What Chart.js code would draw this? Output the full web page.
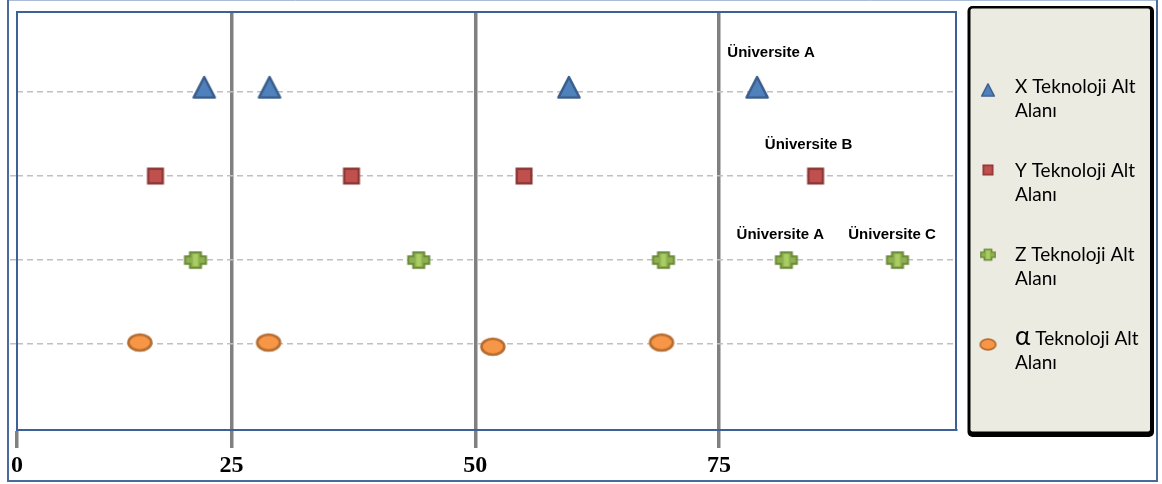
<!DOCTYPE html>
<html>
<head>
<meta charset="utf-8">
<script src="https://cdn.jsdelivr.net/npm/chart.js@4/dist/chart.umd.min.js"></script>
<style>
  html, body { margin: 0; padding: 0; background: #ffffff; }
  #wrap { width: 1162px; height: 484px; position: relative; }
  canvas { display: block; }
</style>
</head>
<body>
<div id="wrap"><canvas id="chart" width="1162" height="484"></canvas></div>
<script>
// Position-axis ticks and the text printed under each of them
const tickValues = [3, 25, 50, 75];
const tickLabels = ['0', '25', '50', '75'];

// Row levels on the vertical axis (one dashed line per sub-field)
const rowLevels = [1, 2, 3, 4];

// Series names shown in the legend
const seriesNames = [
  'X Teknoloji Alt Alanı',
  'Y Teknoloji Alt Alanı',
  'Z Teknoloji Alt Alanı',
  'α Teknoloji Alt Alanı'
];

// X sub-field
const xValues = [22.2, 28.9, 59.6, 78.9];
const xRows   = [4, 4, 4, 4];
const xNotes  = ['', '', '', 'Üniversite A'];

// Y sub-field
const yValues = [17.2, 37.3, 55.0, 84.9];
const yRows   = [3, 3, 3, 3];
const yNotes  = ['', '', '', 'Üniversite B'];

// Z sub-field
const zValues = [21.3, 44.2, 69.3, 81.9, 93.3];
const zRows   = [2, 2, 2, 2, 2];
const zNotes  = ['', '', '', 'Üniversite A', 'Üniversite C'];

// α sub-field
const aValues = [15.6, 28.8, 51.8, 69.1];
const aRows   = [1.02, 1.02, 0.97, 1.02];
const aNotes  = ['', '', '', ''];

// ---------- marker images ----------
function makeCanvas(w, h) {
  const c = document.createElement('canvas');
  c.width = w; c.height = h;
  return c;
}

function triangleMarker(s) {
  const w = Math.round(26 * s), h = Math.round(34 * s);
  const c = makeCanvas(w, h), g = c.getContext('2d');
  const cx = w / 2, cy = h / 2;
  g.beginPath();
  g.moveTo(cx, cy - 15 * s);
  g.lineTo(cx + 10.6 * s, cy + 5.6 * s);
  g.lineTo(cx - 10.6 * s, cy + 5.6 * s);
  g.closePath();
  g.fillStyle = '#4f81bd';
  g.fill();
  g.lineJoin = 'round';
  g.lineWidth = 2.4 * s;
  g.strokeStyle = '#385d8a';
  g.stroke();
  return c;
}

function squareMarker(s) {
  const w = Math.round(20 * s), h = Math.round(20 * s);
  const c = makeCanvas(w, h), g = c.getContext('2d');
  const cx = w / 2, cy = h / 2, half = 7.3 * s;
  g.fillStyle = '#c0504d';
  g.fillRect(cx - half, cy - half, half * 2, half * 2);
  g.lineWidth = 2.4 * s;
  g.strokeStyle = '#8c3836';
  g.strokeRect(cx - half, cy - half, half * 2, half * 2);
  return c;
}

function crossMarker(s) {
  const w = Math.round(26 * s), h = Math.round(22 * s);
  const c = makeCanvas(w, h), g = c.getContext('2d');
  const cx = w / 2, cy = h / 2;
  const hw = 10.5 * s, hh = 3.8 * s, vw = 5.5 * s, vh = 7.8 * s;
  g.beginPath();
  g.moveTo(cx - vw, cy - vh);
  g.lineTo(cx + vw, cy - vh);
  g.lineTo(cx + vw, cy - hh);
  g.lineTo(cx + hw, cy - hh);
  g.lineTo(cx + hw, cy + hh);
  g.lineTo(cx + vw, cy + hh);
  g.lineTo(cx + vw, cy + vh);
  g.lineTo(cx - vw, cy + vh);
  g.lineTo(cx - vw, cy + hh);
  g.lineTo(cx - hw, cy + hh);
  g.lineTo(cx - hw, cy - hh);
  g.lineTo(cx - vw, cy - hh);
  g.closePath();
  g.fillStyle = '#8fb04e';
  g.fill();
  g.fillStyle = '#a9cc63';
  g.fillRect(cx - 2.6 * s, cy - 6.3 * s, 5.2 * s, 12.6 * s);
  g.lineJoin = 'miter';
  g.lineWidth = 2 * s;
  g.strokeStyle = '#6b8a38';
  g.stroke();
  return c;
}

function ellipseMarker(s) {
  const w = Math.round(28 * s), h = Math.round(22 * s);
  const c = makeCanvas(w, h), g = c.getContext('2d');
  const cx = w / 2, cy = h / 2;
  g.beginPath();
  g.ellipse(cx, cy, 11.4 * s, 8 * s, 0, 0, Math.PI * 2);
  g.fillStyle = '#f79646';
  g.fill();
  g.lineWidth = 2.6 * s;
  g.strokeStyle = '#b66d31';
  g.stroke();
  return c;
}

const chartMarkers  = [triangleMarker(1), squareMarker(1), crossMarker(1), ellipseMarker(1)];
const legendMarkers = [triangleMarker(0.6), squareMarker(0.65), crossMarker(0.68), ellipseMarker(0.68)];

function toPoints(vals, rows) {
  return vals.map((v, i) => ({ x: v, y: rows[i] }));
}

// ---------- frames around the plot and the whole figure ----------
const framePlugin = {
  id: 'frames',
  beforeDraw(chart) {
    const ctx = chart.ctx;
    ctx.save();
    ctx.fillStyle = '#ffffff';
    ctx.fillRect(0, 0, chart.width, chart.height);
    // outer figure border
    ctx.strokeStyle = '#a9bdd8';
    ctx.lineWidth = 1;
    ctx.beginPath();
    ctx.moveTo(8, 0.5); ctx.lineTo(1158, 0.5);
    ctx.stroke();
    ctx.strokeStyle = '#4a6a9b';
    ctx.lineWidth = 2;
    ctx.beginPath();
    ctx.moveTo(8, 0); ctx.lineTo(8, 481); ctx.lineTo(1157, 481); ctx.lineTo(1157, 0);
    ctx.stroke();
    ctx.restore();
  },
  beforeDatasetsDraw(chart) {
    const { ctx, chartArea: a } = chart;
    ctx.save();
    ctx.strokeStyle = '#3d6098';
    ctx.lineWidth = 2;
    ctx.strokeRect(a.left, a.top, a.right - a.left, a.bottom - a.top);
    ctx.restore();
  }
};

// ---------- text notes above selected points ----------
const notePlugin = {
  id: 'pointNotes',
  afterDatasetsDraw(chart, args, opts) {
    const ctx = chart.ctx;
    ctx.save();
    ctx.font = opts.font;
    ctx.fillStyle = opts.color;
    ctx.textAlign = 'center';
    ctx.textBaseline = 'alphabetic';
    opts.notes.forEach((list, di) => {
      const meta = chart.getDatasetMeta(di);
      list.forEach((text, pi) => {
        if (!text) return;
        const el = meta.data[pi];
        const off = opts.offsets[di][pi];
        ctx.fillText(text, el.x + off[0], el.y + off[1]);
      });
    });
    ctx.restore();
  }
};

// ---------- boxed legend on the right ----------
const boxLegendPlugin = {
  id: 'boxLegend',
  afterDraw(chart, args, opts) {
    const ctx = chart.ctx;
    const b = opts.box;
    ctx.save();
    // dark shadowed border
    ctx.fillStyle = '#000000';
    ctx.beginPath();
    ctx.roundRect(b.left - 3, b.top - 2.5, b.width + 7, b.height + 8, 5);
    ctx.fill();
    ctx.fillStyle = '#ecebe2';
    ctx.beginPath();
    ctx.roundRect(b.left, b.top, b.width, b.height, 2);
    ctx.fill();

    chart.data.datasets.forEach((ds, i) => {
      const mk = legendMarkers[i];
      ctx.drawImage(mk, opts.markerX - mk.width / 2, opts.markerY[i] - mk.height / 2);

      // wrap words into lines that fit the box
      const words = ds.label.split(' ');
      const lines = [[]];
      let lineW = 0;
      ctx.font = opts.font;
      const spaceW = ctx.measureText(' ').width;
      words.forEach(w => {
        ctx.font = (w === 'α') ? opts.bigFont : opts.font;
        const ww = ctx.measureText(w).width;
        const cur = lines[lines.length - 1];
        const add = cur.length ? spaceW + ww : ww;
        if (cur.length && lineW + add > opts.maxWidth) {
          lines.push([w]);
          lineW = ww;
        } else {
          cur.push(w);
          lineW += add;
        }
      });
      ctx.fillStyle = opts.color;
      ctx.textBaseline = 'alphabetic';
      lines.forEach((ln, li) => {
        let x = opts.textX;
        const y = opts.firstBaseline + i * opts.itemStep + li * opts.lineStep;
        ln.forEach(w => {
          ctx.font = (w === 'α') ? opts.bigFont : opts.font;
          ctx.fillText(w, x, y);
          x += ctx.measureText(w).width;
          ctx.font = opts.font;
          x += spaceW;
        });
      });
    });
    ctx.restore();
  }
};

const allNotes = [xNotes, yNotes, zNotes, aNotes];

new Chart(document.getElementById('chart'), {
  type: 'scatter',
  data: {
    datasets: [
      { label: seriesNames[0], data: toPoints(xValues, xRows), pointStyle: chartMarkers[0] },
      { label: seriesNames[1], data: toPoints(yValues, yRows), pointStyle: chartMarkers[1] },
      { label: seriesNames[2], data: toPoints(zValues, zRows), pointStyle: chartMarkers[2] },
      { label: seriesNames[3], data: toPoints(aValues, aRows), pointStyle: chartMarkers[3] }
    ]
  },
  options: {
    responsive: false,
    animation: false,
    events: [],
    layout: { padding: { left: 0, top: 9, right: 206, bottom: 0 } },
    elements: { point: { radius: 11 } },
    scales: {
      x: {
        type: 'linear',
        min: 3,
        max: 99.3,
        afterBuildTicks: s => { s.ticks = tickValues.map(v => ({ value: v })); },
        afterFit: s => { s.height = 54; },
        ticks: {
          autoSkip: false,
          maxRotation: 0,
          padding: 3,
          color: '#000000',
          font: { family: '"Liberation Serif", serif', weight: 'bold', size: 24 },
          callback: (v, i) => tickLabels[i]
        },
        grid: {
          color: c => (c.tick && c.tick.value === tickValues[0]) ? 'rgba(0,0,0,0)' : '#808080',
          tickColor: '#808080',
          lineWidth: 3.5,
          tickLength: 18
        },
        border: { display: true, color: '#3d6098', width: 2 }
      },
      y: {
        type: 'linear',
        min: -0.02,
        max: 4.95,
        afterBuildTicks: s => { s.ticks = rowLevels.map(v => ({ value: v })); },
        afterFit: s => { s.width = 17; },
        ticks: { display: false },
        grid: {
          color: '#c0c0c0',
          lineWidth: 1.5,
          tickLength: 7,
          tickColor: c => (c.tick && c.tick.value === rowLevels[3]) ? 'rgba(0,0,0,0)' : '#c0c0c0',
          tickBorderDash: [6, 4]
        },
        border: { display: false, dash: [6, 4] }
      }
    },
    plugins: {
      legend: { display: false },
      tooltip: { enabled: false },
      pointNotes: {
        notes: allNotes,
        font: 'bold 15px "Liberation Sans", Arial, sans-serif',
        color: '#000000',
        offsets: [
          [null, null, null, [14, -35]],
          [null, null, null, [-7, -27]],
          [null, null, null, [-6, -21], [-5.5, -21]],
          [null, null, null, null]
        ]
      },
      boxLegend: {
        box: { left: 970.5, top: 8.5, width: 179.5, height: 423 },
        markerX: 988,
        markerY: [92.7, 170, 254.7, 344.5],
        textX: 1015,
        firstBaseline: 92.7,
        itemStep: 84.2,
        lineStep: 24,
        maxWidth: 132,
        color: '#000000',
        font: '19px Lato, "Liberation Sans", sans-serif',
        bigFont: '26px Lato, "Liberation Sans", sans-serif'
      }
    }
  },
  plugins: [framePlugin, notePlugin, boxLegendPlugin]
});
</script>
</body>
</html>
